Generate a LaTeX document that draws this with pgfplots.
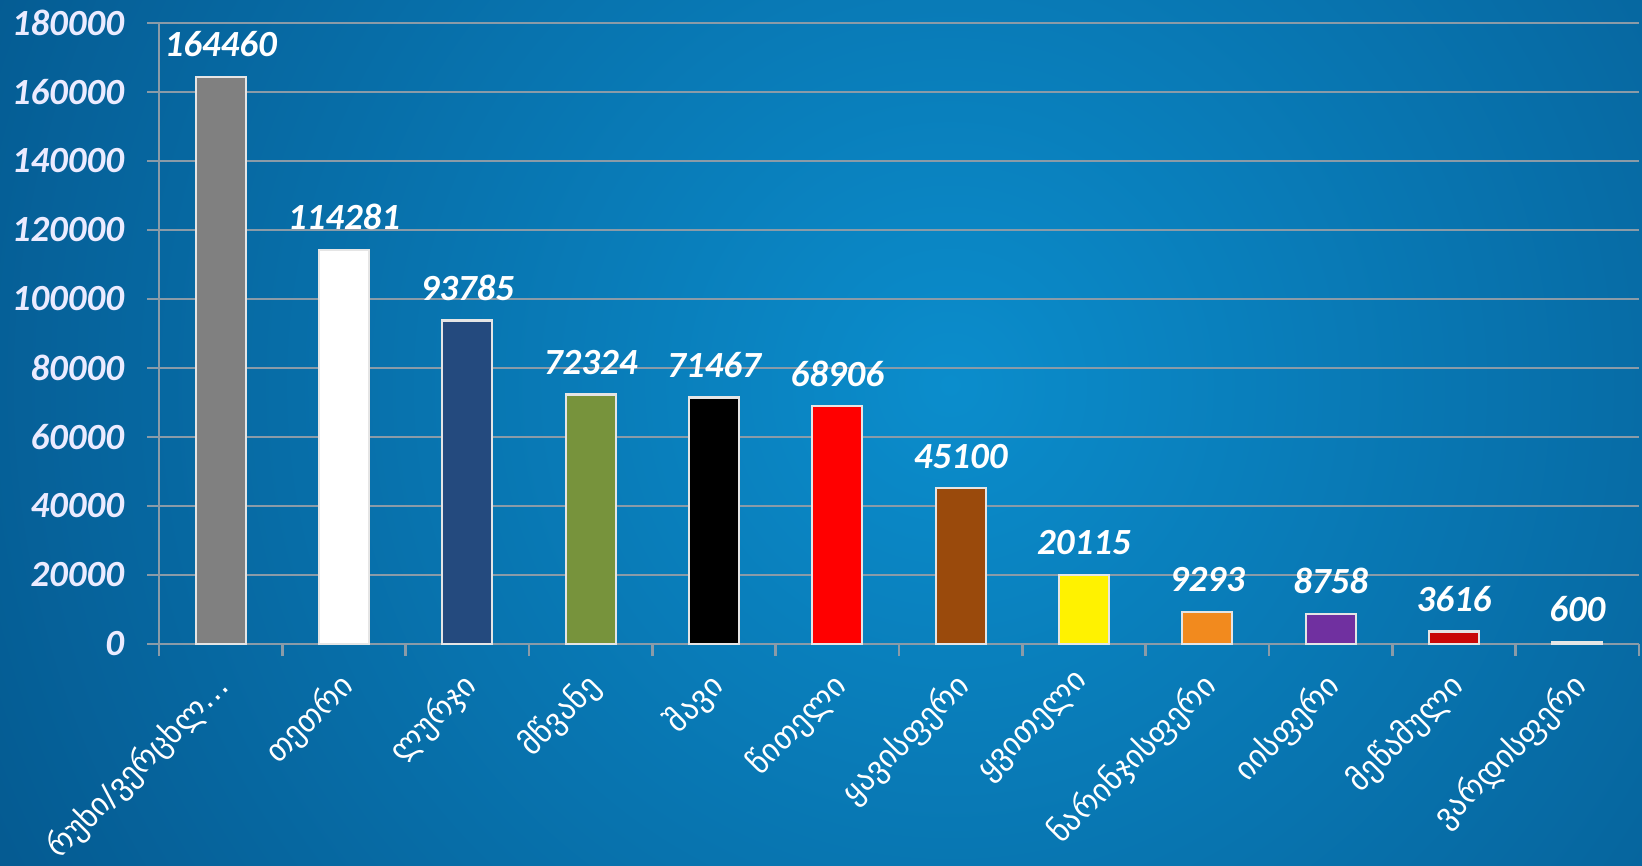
\documentclass[border=0pt]{standalone}
\usepackage{pgfplots}
\pgfplotsset{compat=1.18}
\usepackage{fontspec}
\setmainfont{Carlito}
\newfontfamily\geo{DejaVu Sans}

\definecolor{bgin}{HTML}{0B8DCC}
\definecolor{bgout}{HTML}{04548A}
\definecolor{gridc}{HTML}{8A9BA8}
\definecolor{cnavy}{HTML}{244A7E}
\definecolor{colive}{HTML}{77933C}
\definecolor{cbrown}{HTML}{9A4A0C}
\definecolor{corange}{HTML}{F28A1E}
\definecolor{cpurple}{HTML}{7030A0}
\definecolor{cdred}{HTML}{C80808}

\begin{document}
\begin{tikzpicture}
\useasboundingbox (0,0) rectangle (16.42,8.65);
\begin{scope}
\clip (0,0) rectangle (16.42,8.65);
\shade[inner color=bgin, outer color=bgout] (9.5,4.8) circle (12);
\end{scope}
\begin{axis}[
    at={(1.59cm,2.21cm)}, anchor=south west,
    scale only axis, width=14.8cm, height=6.21cm,
    xmin=-0.5, xmax=11.5, ymin=0, ymax=180000,
    ytick distance=20000,
    xtick={-0.5,0.5,...,11.5},
    x tick label as interval,
    xticklabels={რუხი/ვერცხლ…, თეთრი, ლურჯი, მწვანე, შავი, წითელი, ყავისფერი, ყვითელი, ნარინჯისფერი, იისფერი, მეწამული, ვარდისფერი},
    x tick label style={font=\geo\fontsize{9}{10}\selectfont, text=white, xshift=-0.08cm, yshift=0.04cm, rotate=45, anchor=north east},
    y tick label style={font=\bfseries\itshape\fontsize{10.5}{12}\selectfont, text=white!92!blue, xshift=-3pt},
    /pgf/number format/.cd, fixed, precision=0, 1000 sep={}, assume math mode=true, /pgfplots/.cd,
    scaled y ticks=false,
    ymajorgrids, grid style={gridc, line width=0.6pt},
    axis x line*=bottom, axis y line*=left,
    axis line style={gridc, line width=0.8pt},
    tick style={gridc, line width=0.8pt},
    tick align=outside, major tick length=0.12cm,
    every axis plot/.append style={ybar, bar width=0.5cm, bar shift=0pt, draw=white!80!gray, line width=0.6pt},
    nodes near coords,
    nodes near coords style={font=\bfseries\itshape\fontsize{10.5}{12}\selectfont, text=white, yshift=2pt},
    clip=false,
]
\addplot[fill=gray] coordinates {(0,164460)};
\addplot[fill=white] coordinates {(1,114281)};
\addplot[fill=cnavy] coordinates {(2,93785)};
\addplot[fill=colive] coordinates {(3,72324)};
\addplot[fill=black] coordinates {(4,71467)};
\addplot[fill=red] coordinates {(5,68906)};
\addplot[fill=cbrown] coordinates {(6,45100)};
\addplot[fill=yellow] coordinates {(7,20115)};
\addplot[fill=corange] coordinates {(8,9293)};
\addplot[fill=cpurple] coordinates {(9,8758)};
\addplot[fill=cdred] coordinates {(10,3616)};
\addplot[fill=gray!25] coordinates {(11,600)};
\end{axis}
\end{tikzpicture}
\end{document}
